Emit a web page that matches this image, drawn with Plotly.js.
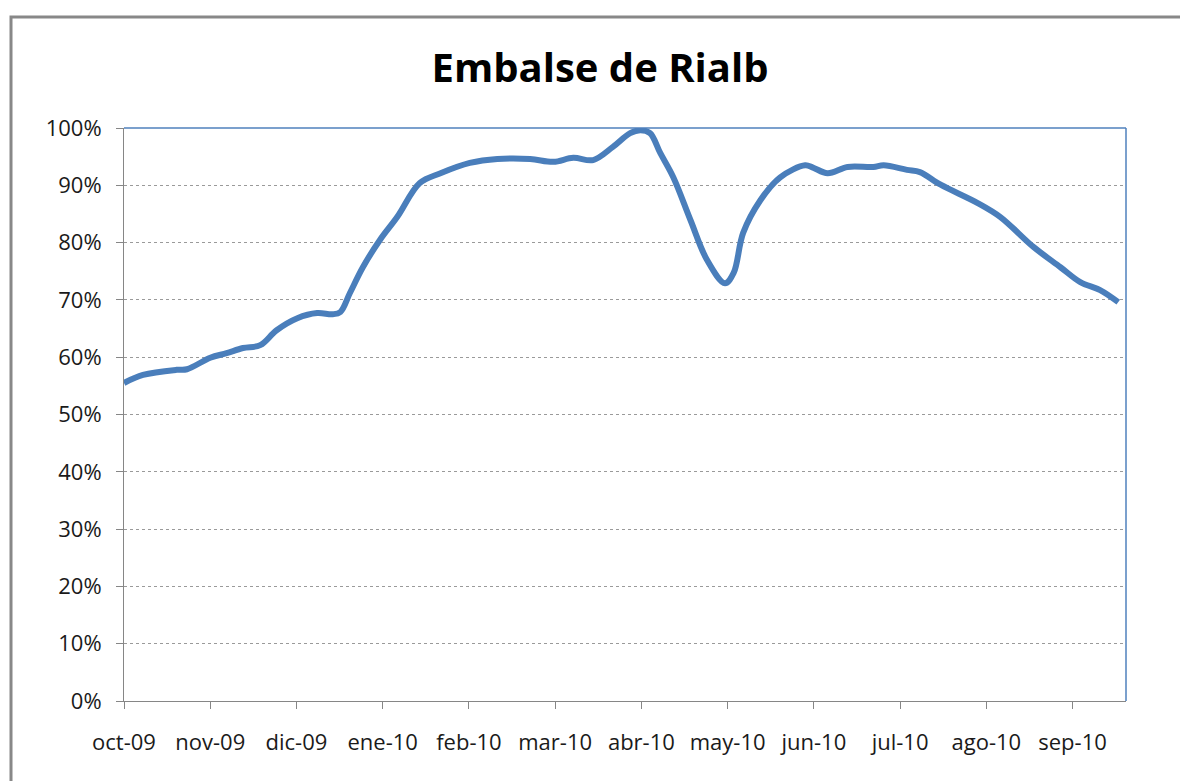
<!DOCTYPE html>
<html>
<head>
<meta charset="utf-8">
<script src="https://cdn.plot.ly/plotly-3.0.1.min.js"></script>
<style>
html,body{margin:0;padding:0;background:#fff;}
#chart{width:1180px;height:781px;}
</style>
</head>
<body>
<div id="chart"></div>
<script>
// Position along the axis in months since oct-09 (0 = oct-09 tick)
const monthPos = [0, 0.22, 0.61, 0.73, 1.00, 1.19, 1.38, 1.58, 1.77, 2.01, 2.24, 2.42, 2.51, 2.62, 2.77, 2.97, 3.17, 3.43, 3.67, 4.01, 4.33, 4.71, 4.98, 5.21, 5.44, 5.67, 5.87, 5.99, 6.10, 6.22, 6.37, 6.57, 6.76, 6.97, 7.07, 7.18, 7.38, 7.61, 7.90, 7.99, 8.16, 8.39, 8.69, 8.81, 9.08, 9.23, 9.47, 9.90, 10.16, 10.55, 10.86, 11.09, 11.32, 11.53];
// Reservoir fill (fraction)
const fill = [0.555, 0.569, 0.578, 0.579, 0.599, 0.607, 0.616, 0.621, 0.647, 0.668, 0.677, 0.675, 0.679, 0.712, 0.757, 0.805, 0.845, 0.904, 0.921, 0.939, 0.946, 0.946, 0.941, 0.948, 0.944, 0.967, 0.991, 0.996, 0.991, 0.956, 0.914, 0.839, 0.770, 0.729, 0.747, 0.817, 0.874, 0.914, 0.935, 0.931, 0.921, 0.932, 0.932, 0.935, 0.927, 0.923, 0.901, 0.869, 0.845, 0.792, 0.757, 0.731, 0.717, 0.696];
const tickLabels = ["oct-09","nov-09","dic-09","ene-10","feb-10","mar-10","abr-10","may-10","jun-10","jul-10","ago-10","sep-10"];
const tickPos = [0,1,2,3,4,5,6,7,8,9,10,11];
const xMax = 11.62;

const trace = {
  x: monthPos, y: fill, type: 'scatter', mode: 'lines',
  line: {color: '#4a7ebb', width: 6, shape: 'spline', smoothing: 1},
  hoverinfo: 'skip'
};

const W = 1180, H = 781, L = 124, R = 54, T = 128, B = 80;
const pw = W - L - R, ph = H - T - B;
const px = v => (v - L) / pw;
const py = v => (H - B - v) / ph;
const FONT = '"Open Sans", Lato, sans-serif';

const layout = {
  width: W, height: H,
  margin: {l: L, r: R, t: T, b: B},
  paper_bgcolor: '#ffffff', plot_bgcolor: '#ffffff',
  showlegend: false,
  font: {family: FONT, color: '#000'},
  title: {text: '<b>Embalse de Rialb</b>', x: 600 / W, xref: 'container', xanchor: 'center',
          y: 1 - 68 / H, yanchor: 'middle',
          font: {size: 40, family: FONT, color: '#000'}},
  xaxis: {
    range: [0, xMax], tickvals: tickPos, ticktext: tickLabels,
    showgrid: false, zeroline: false,
    showline: true, linecolor: '#868686', linewidth: 1,
    ticks: 'outside', ticklen: 7, tickcolor: '#868686', tickwidth: 1,
    ticklabelstandoff: 15,
    tickfont: {size: 22, color: '#1a1a1a'}, fixedrange: true
  },
  yaxis: {
    range: [0, 1], dtick: 0.1, tick0: 0, tickformat: '.0%',
    showgrid: true, gridcolor: '#9a9a9a', gridwidth: 1, griddash: 'dot',
    zeroline: false,
    showline: true, linecolor: '#868686', linewidth: 1,
    ticks: 'outside', ticklen: 7, tickcolor: '#868686', tickwidth: 1,
    ticklabelstandoff: 10,
    tickfont: {size: 22, color: '#1a1a1a'}, fixedrange: true
  },
  shapes: [
    {type: 'line', xref: 'paper', yref: 'paper', x0: 0, x1: 1, y0: 1, y1: 1, line: {color: '#4f81bd', width: 1.5}},
    {type: 'line', xref: 'paper', yref: 'paper', x0: 1, x1: 1, y0: 0, y1: 1, line: {color: '#4f81bd', width: 1.5}},
    {type: 'rect', xref: 'paper', yref: 'paper', x0: px(11), x1: px(1200), y0: py(17), y1: py(800),
     line: {color: '#888888', width: 3}, fillcolor: 'rgba(0,0,0,0)', layer: 'above'}
  ]
};

Plotly.newPlot('chart', [trace], layout, {displayModeBar: false, staticPlot: true});
</script>
</body>
</html>
